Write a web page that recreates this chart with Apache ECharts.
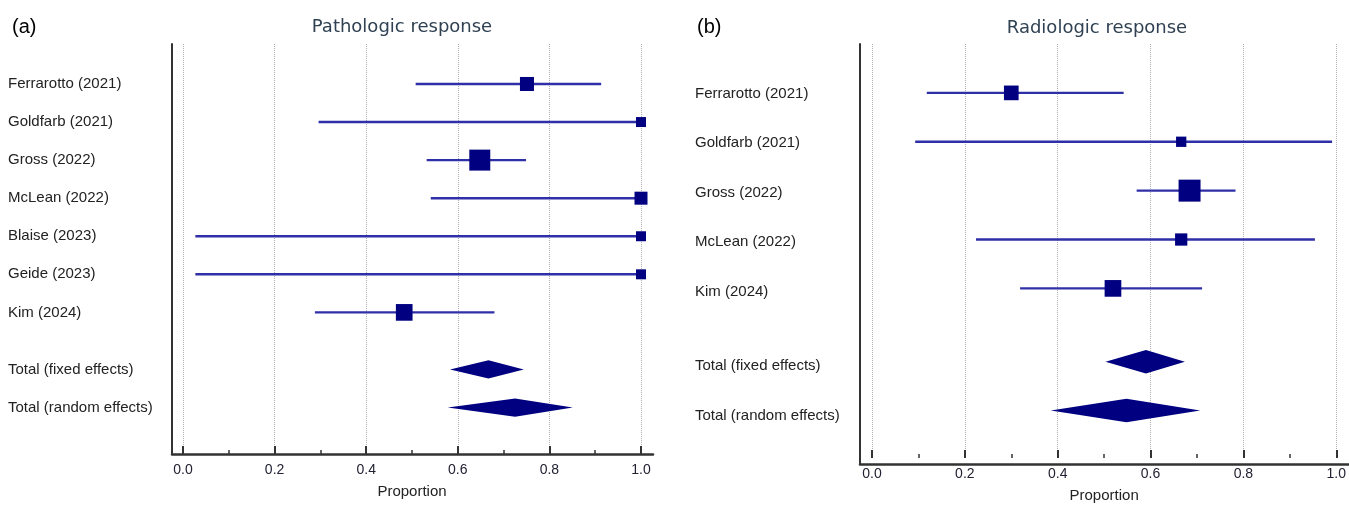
<!DOCTYPE html>
<html>
<head>
<meta charset="utf-8">
<script src="https://cdn.jsdelivr.net/npm/echarts@6/dist/echarts.min.js"></script>
<style>
html,body{margin:0;padding:0;background:#fff;}
#chart{width:1349px;height:508px;}
</style>
</head>
<body>
<div id="chart"></div>
<script>
// ---------- data (a) Pathologic response ----------
const pathStudies = ['Ferrarotto (2021)', 'Goldfarb (2021)', 'Gross (2022)', 'McLean (2022)', 'Blaise (2023)', 'Geide (2023)', 'Kim (2024)'];
const pathEst  = [0.751, 1.000, 0.648, 1.000, 1.000, 1.000, 0.483];
const pathLow  = [0.508, 0.296, 0.532, 0.541, 0.027, 0.027, 0.288];
const pathHigh = [0.913, 1.000, 0.749, 1.000, 1.000, 1.000, 0.680];
const pathWeight = [14.2, 7.2, 31.8, 12.2, 7.2, 7.2, 20.1];
const pathTotals = ['Total (fixed effects)', 'Total (random effects)'];
const pathTotalEst  = [0.667, 0.725];
const pathTotalLow  = [0.583, 0.578];
const pathTotalHigh = [0.744, 0.851];

// ---------- data (b) Radiologic response ----------
const radStudies = ['Ferrarotto (2021)', 'Goldfarb (2021)', 'Gross (2022)', 'McLean (2022)', 'Kim (2024)'];
const radEst  = [0.300, 0.666, 0.684, 0.666, 0.519];
const radLow  = [0.118, 0.093, 0.570, 0.224, 0.319];
const radHigh = [0.542, 0.991, 0.783, 0.954, 0.711];
const radWeight = [17.5, 8.6, 39.2, 12.2, 22.6];
const radTotals = ['Total (fixed effects)', 'Total (random effects)'];
const radTotalEst  = [0.590, 0.548];
const radTotalLow  = [0.503, 0.385];
const radTotalHigh = [0.674, 0.707];

const xTickValues = [0, 0.2, 0.4, 0.6, 0.8, 1.0];
const axisName = 'Proportion';
const panelTitles = ['Pathologic response', 'Radiologic response'];
const panelTags = ['(a)', '(b)'];

// ---------- build ----------
function buildPanel(studies, est, low, high, weight, totals, tEst, tLow, tHigh) {
  const labels = [], positions = [], data = [];
  studies.forEach((s, i) => {
    labels.push(s); positions.push(i);
    data.push([est[i], low[i], high[i], i, weight[i], 0]);
  });
  totals.forEach((s, j) => {
    const p = studies.length + 0.5 + j;
    labels.push(s); positions.push(p);
    data.push([tEst[j], tLow[j], tHigh[j], p, 0, 1]);
  });
  return { labels, positions, data };
}
const A = buildPanel(pathStudies, pathEst, pathLow, pathHigh, pathWeight, pathTotals, pathTotalEst, pathTotalLow, pathTotalHigh);
const B = buildPanel(radStudies, radEst, radLow, radHigh, radWeight, radTotals, radTotalEst, radTotalLow, radTotalHigh);

const LINE_COLOR = '#2f2fa8';
const MARK_COLOR = '#000080';
const AXIS_COLOR = '#333333';
const FONT = "'Liberation Sans', Arial, sans-serif";

function makeRender(k) {
  return function (params, api) {
    const e = api.value(0), lo = api.value(1), hi = api.value(2), y = api.value(3), w = api.value(4), kind = api.value(5);
    const pE = api.coord([e, y]), pL = api.coord([lo, y]), pH = api.coord([hi, y]);
    if (kind === 0) {
      const s = k * Math.sqrt(w);
      return {
        type: 'group',
        children: [
          { type: 'line', shape: { x1: pL[0], y1: pL[1], x2: pH[0], y2: pH[1] }, style: { stroke: LINE_COLOR, lineWidth: 2.4 } },
          { type: 'rect', shape: { x: pE[0] - s / 2, y: pE[1] - s / 2, width: s, height: s }, style: { fill: MARK_COLOR } }
        ]
      };
    }
    const t = api.coord([e, y - 0.24]), b = api.coord([e, y + 0.24]);
    return {
      type: 'polygon',
      shape: { points: [[pL[0], pL[1]], [t[0], t[1]], [pH[0], pH[1]], [b[0], b[1]]] },
      style: { fill: MARK_COLOR }
    };
  };
}

function frameX(min, max, gi) {
  return {
    type: 'value', gridIndex: gi, min: min, max: max,
    axisLine: { show: true, onZero: false, lineStyle: { color: AXIS_COLOR, width: 2.5 } },
    axisTick: { show: false }, axisLabel: { show: false }, splitLine: { show: false }
  };
}
function frameY(min, max, gi, P, margin) {
  return {
    type: 'value', gridIndex: gi, min: min, max: max, inverse: true,
    axisLine: { show: true, onZero: false, lineStyle: { color: AXIS_COLOR, width: 2 } },
    axisTick: { show: false }, splitLine: { show: false },
    axisLabel: {
      show: true, customValues: P.positions, align: 'left', margin: margin,
      color: '#222', fontSize: 15, fontFamily: FONT,
      formatter: function (v) {
        const idx = P.positions.findIndex(p => Math.abs(p - v) < 1e-6);
        return idx >= 0 ? P.labels[idx] : '';
      }
    }
  };
}
function dataX(gi) {
  return {
    type: 'value', gridIndex: gi, min: 0, max: 1, interval: 0.2, position: 'bottom',
    axisLine: { show: false, onZero: false },
    axisTick: { show: true, inside: true, length: 8, lineStyle: { color: AXIS_COLOR, width: 2 } },
    minorTick: { show: true, splitNumber: 2, length: 4, lineStyle: { color: AXIS_COLOR, width: 1.5 } },
    splitLine: { show: true, lineStyle: { color: '#b0b0b0', type: 'dotted', width: 1 } },
    axisLabel: {
      margin: 9, color: '#222233', fontSize: 14, fontFamily: FONT,
      formatter: v => xTickValues.some(t => Math.abs(t - v) < 1e-9) ? v.toFixed(1) : ''
    },
    name: axisName, nameLocation: 'middle', nameGap: 30,
    nameTextStyle: { color: '#222', fontSize: 15, fontFamily: FONT }
  };
}
function dataY(min, max, gi) {
  return { type: 'value', gridIndex: gi, min: min, max: max, inverse: true, show: false };
}

const option = {
  animation: false,
  backgroundColor: '#fff',
  grid: [
    { left: 172, top: 44, width: 481, height: 410 },
    { left: 183, top: 44, width: 458, height: 410 },
    { left: 860, top: 44, width: 489, height: 420 },
    { left: 872, top: 44, width: 468, height: 420 }
  ],
  xAxis: [
    frameX(-0.024, 1.026, 0),
    dataX(1),
    frameX(-0.0256, 1.019, 2),
    dataX(3)
  ],
  yAxis: [
    frameY(-1.05, 9.72, 0, A, 164),
    dataY(-1.05, 9.72, 1),
    frameY(-1.0, 7.47, 2, B, 165),
    dataY(-1.0, 7.47, 3)
  ],
  graphic: [
    { type: 'text', x: 12, y: 27, style: { text: panelTags[0], font: "20px 'Liberation Sans', Arial, sans-serif", fill: '#000', textVerticalAlign: 'middle' } },
    { type: 'text', x: 402, y: 27, style: { text: panelTitles[0], font: "18px 'DejaVu Sans', sans-serif", fill: '#2f4152', textAlign: 'center', textVerticalAlign: 'middle' } },
    { type: 'text', x: 697, y: 27, style: { text: panelTags[1], font: "20px 'Liberation Sans', Arial, sans-serif", fill: '#000', textVerticalAlign: 'middle' } },
    { type: 'text', x: 1097, y: 28, style: { text: panelTitles[1], font: "18px 'DejaVu Sans', sans-serif", fill: '#2f4152', textAlign: 'center', textVerticalAlign: 'middle' } }
  ],
  series: [
    { type: 'custom', xAxisIndex: 1, yAxisIndex: 1, clip: false, z: 5, renderItem: makeRender(3.72), data: A.data },
    { type: 'custom', xAxisIndex: 3, yAxisIndex: 3, clip: false, z: 5, renderItem: makeRender(3.51), data: B.data }
  ]
};

const chart = echarts.init(document.getElementById('chart'), null, { renderer: 'canvas' });
chart.setOption(option);
</script>
</body>
</html>
